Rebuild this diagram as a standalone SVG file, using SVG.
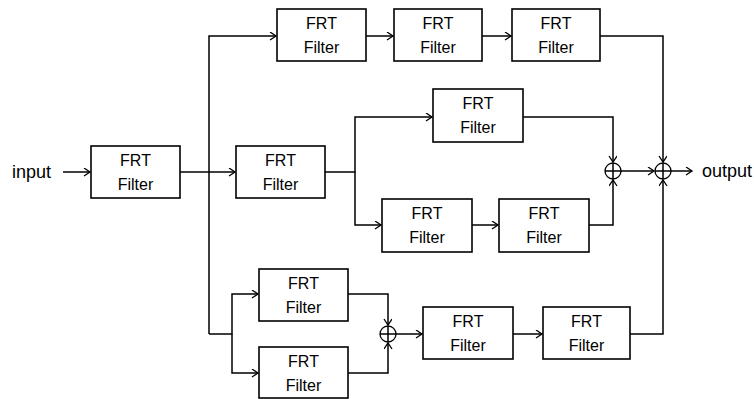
<svg xmlns="http://www.w3.org/2000/svg" width="754" height="399" viewBox="0 0 754 399">
<style>
.box{fill:#fff;stroke:#000;stroke-width:1.6}
.t{font-family:"Liberation Sans",Arial,sans-serif;font-size:16px;fill:#000;text-anchor:middle}
.lbl{font-family:"Liberation Sans",Arial,sans-serif;font-size:18px;fill:#000}
.c{fill:none;stroke:#000;stroke-width:1.5}
.a{marker-end:url(#arr)}
.sum{fill:none;stroke:#000;stroke-width:1.3}
</style>
<defs>
<marker id="arr" markerUnits="userSpaceOnUse" markerWidth="10" markerHeight="10" refX="7" refY="4" orient="auto">
<path d="M1,0 L7,4 L1,8" fill="none" stroke="#000" stroke-width="1.3"/>
</marker>
</defs>
<rect width="754" height="399" fill="#fff"/>
<g id="connectors">
<path class="c a" d="M63,172 H90"/>
<path class="c a" d="M180,172 H235"/>
<path class="c a" d="M209,334 V36 H276"/>
<path class="c a" d="M366,36 H393"/>
<path class="c a" d="M482,36 H511"/>
<path class="c a" d="M600,36 H663 V162"/>
<path class="c a" d="M325,172 H355 V117 H432"/>
<path class="c a" d="M355,172 V225 H381"/>
<path class="c a" d="M472,225 H498"/>
<path class="c a" d="M523,117 H613 V162"/>
<path class="c a" d="M589,225 H613 V180"/>
<path class="c a" d="M621,171 H654"/>
<path class="c a" d="M671,171 H692"/>
<path class="c a" d="M209,334 H232 V294 H258"/>
<path class="c a" d="M232,334 V373 H258"/>
<path class="c a" d="M348,294 H388 V325"/>
<path class="c a" d="M348,373 H388 V343"/>
<path class="c a" d="M396,334 H422"/>
<path class="c a" d="M513,334 H542"/>
<path class="c a" d="M630,334 H663 V180"/>
</g>
<g id="input-label"><text class="lbl" x="12" y="178">input</text></g>
<g id="output-label"><text class="lbl" x="702" y="177">output</text></g>
<g id="f0"><rect class="box" x="91" y="146" width="89" height="52"/><text class="t" x="135.5" y="166">FRT</text><text class="t" x="135.5" y="190">Filter</text></g>
<g id="f1"><rect class="box" x="277" y="9" width="89" height="52"/><text class="t" x="321.5" y="29">FRT</text><text class="t" x="321.5" y="53">Filter</text></g>
<g id="f2"><rect class="box" x="394" y="9" width="88" height="52"/><text class="t" x="438" y="29">FRT</text><text class="t" x="438" y="53">Filter</text></g>
<g id="f3"><rect class="box" x="512" y="9" width="88" height="52"/><text class="t" x="556" y="29">FRT</text><text class="t" x="556" y="53">Filter</text></g>
<g id="f4"><rect class="box" x="236" y="146" width="89" height="52"/><text class="t" x="280.5" y="166">FRT</text><text class="t" x="280.5" y="190">Filter</text></g>
<g id="f5"><rect class="box" x="433" y="89" width="90" height="53"/><text class="t" x="478" y="109">FRT</text><text class="t" x="478" y="133">Filter</text></g>
<g id="f6"><rect class="box" x="382" y="199" width="90" height="53"/><text class="t" x="427" y="219">FRT</text><text class="t" x="427" y="243">Filter</text></g>
<g id="f7"><rect class="box" x="499" y="199" width="90" height="53"/><text class="t" x="544" y="219">FRT</text><text class="t" x="544" y="243">Filter</text></g>
<g id="f8"><rect class="box" x="259" y="269" width="89" height="52"/><text class="t" x="303.5" y="289">FRT</text><text class="t" x="303.5" y="313">Filter</text></g>
<g id="f9"><rect class="box" x="259" y="347" width="89" height="51"/><text class="t" x="303.5" y="367">FRT</text><text class="t" x="303.5" y="391">Filter</text></g>
<g id="f10"><rect class="box" x="423" y="307" width="90" height="52"/><text class="t" x="468" y="327">FRT</text><text class="t" x="468" y="351">Filter</text></g>
<g id="f11"><rect class="box" x="543" y="307" width="87" height="52"/><text class="t" x="586.5" y="327">FRT</text><text class="t" x="586.5" y="351">Filter</text></g>
<g id="sum1"><circle class="sum" cx="613" cy="171" r="8"/><path class="c" d="M605,171 H621 M613,163 V179"/></g>
<g id="sum2"><circle class="sum" cx="663" cy="171" r="8"/><path class="c" d="M655,171 H671 M663,163 V179"/></g>
<g id="sum3"><circle class="sum" cx="388" cy="334" r="8"/><path class="c" d="M380,334 H396 M388,326 V342"/></g>
</svg>
